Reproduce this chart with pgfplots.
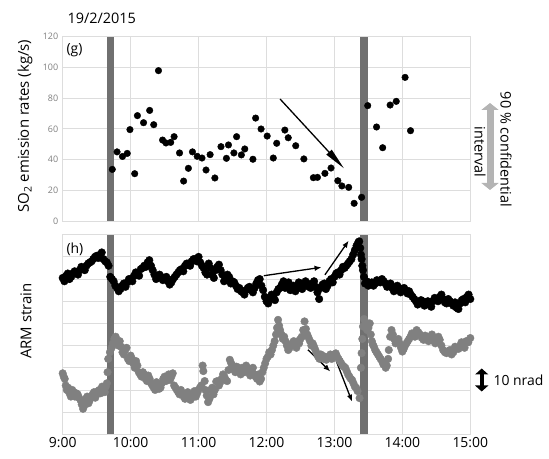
\documentclass[border=0pt]{standalone}
\usepackage{fontspec}
\setmainfont{Open Sans}
\usepackage{pgfplots}
\pgfplotsset{compat=1.18}
\usetikzlibrary{arrows.meta}
\definecolor{gridgray}{HTML}{DDDDDD}
\definecolor{bargray}{HTML}{707070}
\definecolor{dotgray}{HTML}{808080}
\definecolor{cigray}{HTML}{B4B4B4}
\definecolor{ticktext}{HTML}{7F7F7F}

\pgfplotsset{
  panel/.style={
    scale only axis, width=407.6bp, anchor=south west,
    xmin=9, xmax=15, xtick={9,...,15},
    grid=major, grid style={draw=gridgray, line width=0.8pt},
    axis line style={draw=gridgray, line width=0.8pt},
    tick style={draw=none}, clip=false,
    /pgf/number format/assume math mode=true,
  },
  blk/.style={only marks, mark=*, mark size=3.3bp, mark options={draw=black, fill=black}},
  gry/.style={only marks, mark=*, mark size=3.8bp, mark options={draw=dotgray, fill=dotgray}},
}

\begin{document}
\begin{tikzpicture}[x=1bp,y=1bp]
\useasboundingbox (0,0) rectangle (549,459);

% (g) SO2 emission rates
\begin{axis}[panel, at={(62.7bp,238bp)}, height=184.3bp,
  ymin=0, ymax=120, ytick={0,20,...,120}, xticklabels={},
  yticklabel style={font=\fontsize{9}{10}\selectfont, text=ticktext, xshift=-1bp}]
\draw[bargray, line width=7.5bp] (axis cs:9.70,0) -- (axis cs:9.70,120);
\draw[bargray, line width=7.5bp] (axis cs:13.434,0) -- (axis cs:13.434,120);
\addplot[blk] coordinates {
(9.73,33.6) (9.80,45) (9.88,42) (9.95,44) (9.99,59.5) (10.06,30.8) (10.10,68.6)
(10.19,64) (10.28,72) (10.34,62.7) (10.41,97.9) (10.47,52.7) (10.52,50.8)
(10.59,51.2) (10.64,54.9) (10.72,44.3) (10.78,26) (10.85,34.3) (10.91,45)
(10.98,42.1) (11.05,41) (11.11,33.2) (11.17,43.2) (11.24,28) (11.33,48.4)
(11.41,40.8) (11.44,49.5) (11.52,44.3) (11.56,54.9) (11.63,43) (11.68,46.9)
(11.80,40.2) (11.84,67) (11.92,59.9) (12.01,55.3) (12.10,41) (12.15,50.6)
(12.27,59.2) (12.32,54.2) (12.43,49) (12.55,40.4) (12.69,28.2) (12.75,28.4)
(12.86,31) (12.95,34.5) (13.05,26.2) (13.11,22.8) (13.21,21.9) (13.29,11.5)
(13.40,15.4) (13.49,75.1) (13.62,61.2) (13.71,47.7) (13.82,75.5) (13.91,77.9)
(14.04,93.5) (14.12,58.8)
};
\draw[-{Triangle[length=22bp,width=7bp]}, line width=1.3bp] (axis cs:12.20,79.4) -- (axis cs:13.14,34.3);
\end{axis}

% (h) ARM strain
\begin{axis}[panel, at={(62.7bp,24.7bp)}, height=199.6bp,
  ymin=0, ymax=90, ytick={0,10,...,90}, yticklabels={},
  xticklabels={9:00,10:00,11:00,12:00,13:00,14:00,15:00},
  xticklabel style={font=\fontsize{14}{16}\selectfont, yshift=0bp}]
\draw[bargray, line width=7.5bp] (axis cs:9.70,0) -- (axis cs:9.70,90);
\draw[bargray, line width=7.5bp] (axis cs:13.434,0) -- (axis cs:13.434,90);
\addplot[gry] coordinates {
(9.00,27.5) (9.03,25) (9.06,20) (9.10,18.5) (9.14,20) (9.18,17) (9.22,18)
(9.26,15.5) (9.30,11.5) (9.34,16) (9.38,14) (9.42,17) (9.46,19) (9.50,18)
(9.54,20) (9.58,21.5) (9.62,19) (9.65,23) (9.67,34) (9.72,39) (9.76,43)
(9.80,41) (9.84,42) (9.88,37) (9.92,38) (9.96,34) (10.00,35.5) (10.04,32)
(10.08,33) (10.12,28) (10.16,26) (10.20,27) (10.24,24) (10.28,25) (10.32,22)
(10.36,20) (10.40,22.5) (10.44,21) (10.48,25) (10.52,24) (10.56,27) (10.60,26)
(10.64,22) (10.68,20) (10.72,18) (10.76,18.5) (10.80,16) (10.84,19) (10.88,15.5)
(10.92,18) (10.96,17) (11.00,20) (11.04,22) (11.07,28.5) (11.10,20) (11.14,14.5)
(11.18,20) (11.22,18) (11.26,23.8) (11.30,22) (11.34,25) (11.38,26) (11.42,24)
(11.46,33.6) (11.50,31) (11.54,28) (11.58,30) (11.62,27) (11.66,29) (11.70,31)
(11.74,28) (11.78,29) (11.82,27) (11.86,25) (11.90,23.8) (11.94,28) (11.98,32)
(12.02,35) (12.06,36) (12.10,40) (12.14,45) (12.17,51.6) (12.20,47) (12.24,43)
(12.28,42) (12.32,38) (12.36,40) (12.40,42) (12.44,39) (12.48,41) (12.52,44)
(12.56,50.9) (12.60,45) (12.64,42) (12.68,41) (12.72,38) (12.76,35) (12.80,36)
(12.84,34) (12.88,33.6) (12.92,35) (12.96,34) (13.00,36) (13.04,35) (13.08,33)
(13.12,31) (13.16,30) (13.20,27) (13.24,25) (13.28,23) (13.32,21) (13.37,16.3)
(13.40,36.6) (13.42,48.6) (13.45,51) (13.48,47) (13.52,50) (13.55,42) (13.58,39.6)
(13.62,37) (13.66,35) (13.70,33) (13.74,32) (13.77,31) (13.80,38) (13.84,47)
(13.88,43) (13.92,42) (13.96,41) (14.00,37.3) (14.04,40) (14.08,42) (14.12,44)
(14.16,45) (14.21,47) (14.26,45) (14.31,42.6) (14.36,43) (14.41,44) (14.46,42)
(14.51,43) (14.55,42.6) (14.60,38) (14.65,36.6) (14.70,38) (14.75,37) (14.80,38.8)
(14.85,40) (14.89,40.3) (14.94,42) (15.00,43.4)
(9.015,26) (9.045,22) (9.08,21) (9.12,17) (9.16,19) (9.20,18.5) (9.24,16.5)
(9.28,13.5) (9.32,13) (9.36,17) (9.40,15.5) (9.44,18) (9.48,16.5) (9.52,19.5)
(9.56,18.5) (9.60,20.5) (9.635,21.5) (9.66,28) (9.695,37) (9.74,41) (9.78,44)
(9.82,40) (9.86,39.5) (9.90,36) (9.94,39) (9.98,33) (10.02,34) (10.06,30)
(10.10,31) (10.14,27) (10.18,28) (10.22,25) (10.26,26.5) (10.30,23) (10.34,21)
(10.38,23.5) (10.42,20.5) (10.46,23) (10.50,26) (10.54,25.5) (10.58,24.5)
(10.62,27.5) (10.66,21) (10.70,19) (10.74,20) (10.78,17) (10.82,17.5) (10.86,17)
(10.90,16.5) (10.94,19.5) (10.98,18.5) (11.02,21) (11.06,31) (11.09,24)
(11.12,17.5) (11.16,16) (11.20,21) (11.24,20) (11.28,24) (11.32,23.5) (11.36,27)
(11.40,24.5) (11.44,29) (11.48,32) (11.52,29.5) (11.56,30.5) (11.60,28) (11.64,30)
(11.68,28) (11.72,30) (11.76,26.5) (11.80,30) (11.84,26) (11.88,27) (11.92,25)
(11.96,30) (12.00,34) (12.04,37) (12.08,38) (12.12,42) (12.155,48) (12.185,49)
(12.22,45) (12.26,44) (12.30,40) (12.34,39) (12.38,41) (12.42,40.5) (12.46,42)
(12.50,43) (12.54,47) (12.58,47.5) (12.62,43.5) (12.66,40) (12.70,39.5)
(12.74,36.5) (12.78,34) (12.82,35.5) (12.86,35) (12.90,34.5) (12.94,36)
(12.98,35.5) (13.02,36.5) (13.06,34) (13.10,32) (13.14,30.5) (13.18,28.5)
(13.22,26) (13.26,24.5) (13.30,21.5) (13.34,19.5) (13.39,30) (13.41,43)
(13.435,52) (13.465,49) (13.50,48) (13.535,45) (13.565,40.5) (13.60,38)
(13.64,36) (13.68,34) (13.72,31.5) (13.755,30) (13.79,34) (13.82,44) (13.86,45)
(13.90,41) (13.94,43) (13.98,39) (14.02,38.5) (14.06,41) (14.10,43) (14.14,45.5)
(14.185,44) (14.235,46) (14.285,43.5) (14.335,44.5) (14.385,42) (14.435,45)
(14.485,41) (14.53,44) (14.575,40) (14.625,37) (14.675,37.5) (14.725,36)
(14.775,39.5) (14.825,38.5) (14.87,41.5) (14.915,39) (14.97,41.5)
};
\addplot[blk, mark size=3.8bp] coordinates {
(9.00,70.5) (9.05,71.5) (9.10,70) (9.15,72.5) (9.20,73) (9.25,74) (9.30,75)
(9.35,76) (9.40,77.5) (9.45,79) (9.50,80.5) (9.55,81) (9.60,79) (9.65,77.5)
(9.70,71) (9.75,69) (9.80,66) (9.85,65.5) (9.90,68) (9.95,68.5) (10.00,70)
(10.05,71.5) (10.10,72) (10.15,74.5) (10.20,76) (10.25,77.5) (10.30,76)
(10.35,72) (10.40,70.5) (10.45,71) (10.50,70) (10.55,69) (10.60,68.5) (10.65,71)
(10.70,73) (10.75,74.5) (10.80,76) (10.85,77) (10.90,78) (10.95,79) (11.00,80)
(11.05,76) (11.10,73) (11.15,77) (11.20,72) (11.25,74) (11.30,76.5) (11.35,72)
(11.40,70) (11.45,71) (11.50,69) (11.55,67) (11.60,66) (11.65,64) (11.70,65)
(11.75,66.5) (11.80,64) (11.85,68) (11.90,70) (11.95,65) (12.00,60) (12.05,61)
(12.10,62) (12.15,64) (12.20,66) (12.25,69) (12.30,67) (12.35,65) (12.40,67)
(12.45,66) (12.50,68) (12.55,67) (12.60,68) (12.65,66) (12.70,69) (12.75,64)
(12.80,66) (12.85,68) (12.90,67) (12.95,70) (13.00,71) (13.05,73) (13.10,74)
(13.15,75) (13.20,77) (13.25,79) (13.30,83) (13.35,86.5) (13.38,84) (13.40,79)
(13.42,74) (13.45,68) (13.50,67) (13.55,68.5) (13.60,68) (13.65,69) (13.70,70)
(13.75,68) (13.80,67) (13.85,66) (13.90,65) (13.95,66) (14.00,65) (14.05,65)
(14.10,64.5) (14.15,62) (14.20,60) (14.25,59) (14.30,60) (14.35,58.5) (14.40,59)
(14.45,60) (14.50,61) (14.55,62) (14.60,61) (14.65,59) (14.70,60) (14.75,58)
(14.80,57) (14.85,59) (14.90,61) (14.95,62) (15.00,61)
(9.025,69) (9.075,72.5) (9.125,71) (9.175,73.5) (9.225,72) (9.275,75.5) (9.325,74)
(9.375,77) (9.425,78) (9.475,80) (9.525,79.5) (9.575,82) (9.625,78) (9.675,76)
(9.725,70) (9.775,67) (9.825,64.5) (9.875,67) (9.925,66.5) (9.975,70) (10.025,69)
(10.075,73) (10.125,71.5) (10.175,75) (10.225,75.5) (10.275,78.5) (10.325,74)
(10.375,70) (10.425,72) (10.475,69.5) (10.525,71) (10.575,67.5) (10.625,70)
(10.675,72) (10.725,74) (10.775,73.5) (10.825,77) (10.875,76) (10.925,79)
(10.975,78) (11.025,77.5) (11.075,75) (11.125,72) (11.175,75) (11.225,70.5)
(11.275,75.5) (11.325,74) (11.375,69) (11.425,72) (11.475,68) (11.525,68.5)
(11.575,65.5) (11.625,64.5) (11.675,63) (11.725,66) (11.775,65) (11.825,66)
(11.875,69.5) (11.925,67) (11.975,62) (12.025,59) (12.075,63) (12.125,60.5)
(12.175,65.5) (12.225,67.5) (12.275,66) (12.325,68.5) (12.375,66) (12.425,64.5)
(12.475,68.5) (12.525,65.5) (12.575,69) (12.625,66.5) (12.675,68) (12.725,66.5)
(12.775,61) (12.825,67.5) (12.875,65.5) (12.925,69) (12.975,68.5) (13.025,72.5)
(13.075,72) (13.125,75.5) (13.175,76) (13.225,78) (13.275,81) (13.325,85)
(13.365,87) (13.39,81) (13.41,76) (13.435,71) (13.475,69) (13.525,68) (13.575,67)
(13.625,69.5) (13.675,68.5) (13.725,69) (13.775,66.5) (13.825,68) (13.875,64.5)
(13.925,67) (13.975,64) (14.025,66) (14.075,63.5) (14.125,63) (14.175,61)
(14.225,58.5) (14.275,60.5) (14.325,58) (14.375,60) (14.425,57.5) (14.475,61.5)
(14.525,60) (14.575,63) (14.625,59.5) (14.675,61) (14.725,59) (14.775,59.5)
(14.825,56.5) (14.875,60.5) (14.925,59.5) (14.975,63)
};
\draw[-{Latex[length=7bp,width=5.5bp]}, line width=1.3bp] (axis cs:11.96,71.5) -- (axis cs:12.81,75.3);
\draw[-{Latex[length=7bp,width=5.5bp]}, line width=1.3bp] (axis cs:12.86,71.9) -- (axis cs:13.21,87.3);
\draw[-{Latex[length=7bp,width=5.5bp]}, line width=1.3bp] (axis cs:12.61,38.1) -- (axis cs:12.94,28.3);
\draw[-{Latex[length=7bp,width=5.5bp]}, line width=1.3bp] (axis cs:13.03,32.8) -- (axis cs:13.26,14.7);
\end{axis}

% texts
\node[anchor=west, font=\fontsize{14.5}{16}\selectfont] at (64,441) {19/2/2015};
\node[anchor=west, font=\fontsize{14}{16}\selectfont] at (63,409) {(g)};
\node[anchor=west, font=\fontsize{14}{16}\selectfont] at (63,210) {(h)};
\node[rotate=90, font=\fontsize{15}{17}\selectfont] at (25,333) {SO\textsubscript{2} emission rates (kg/s)};
\node[rotate=90, font=\fontsize{15}{17}\selectfont] at (26,138) {ARM strain};
% 90 % confidential interval
\draw[cigray, line width=7bp, {Triangle[length=7bp,width=17bp]}-{Triangle[length=7bp,width=17bp]}] (490,356) -- (490,269);
\node[rotate=-90, font=\fontsize{14.5}{16}\selectfont] at (506,309.5) {90 \% confidential};
\node[rotate=-90, font=\fontsize{14.5}{16}\selectfont] at (480,307) {interval};
% 10 nrad
\draw[black, line width=4bp, {Triangle[length=6bp,width=13bp]}-{Triangle[length=6bp,width=13bp]}] (481.7,90.5) -- (481.7,67.5);
\node[anchor=west, font=\fontsize{14}{16}\selectfont] at (490,79) {10 nrad};
\end{tikzpicture}
\end{document}
